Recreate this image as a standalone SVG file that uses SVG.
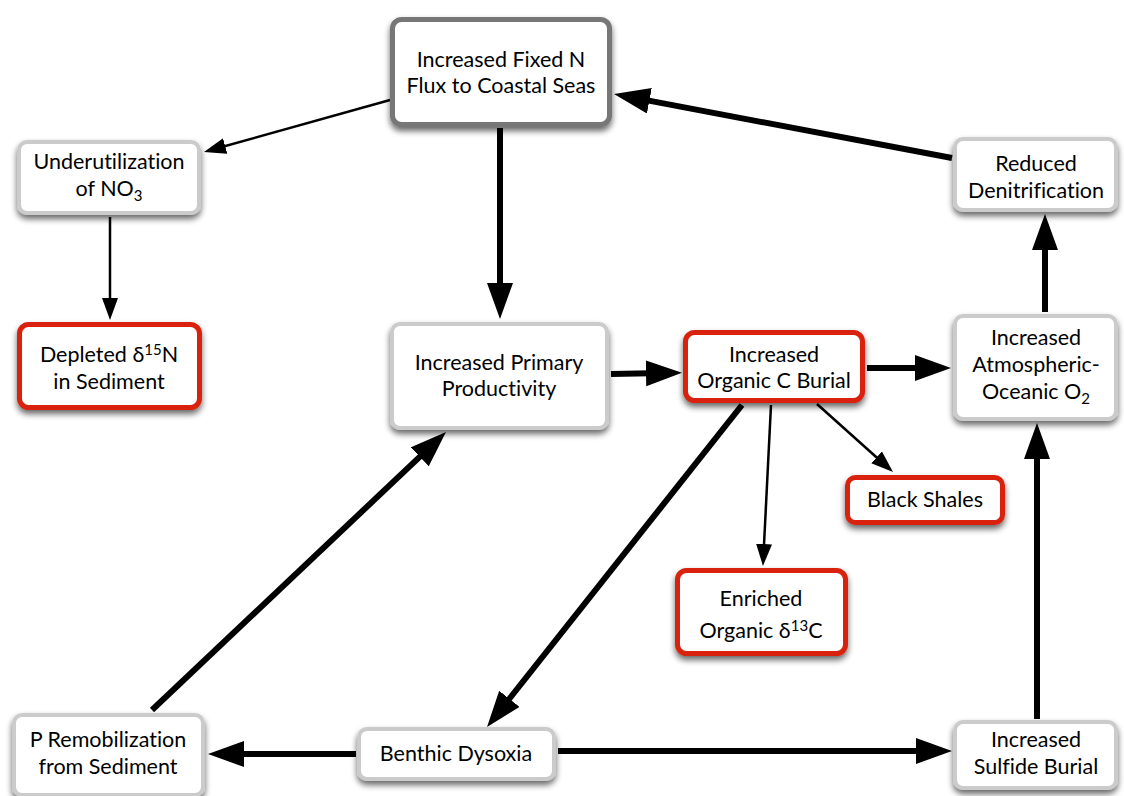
<svg xmlns="http://www.w3.org/2000/svg" width="1124" height="796" viewBox="0 0 1124 796">
<defs>
<filter id="sh" x="-20%" y="-20%" width="140%" height="150%">
<feGaussianBlur in="SourceAlpha" stdDeviation="3"/>
<feOffset dx="0" dy="4" result="b"/>
<feComponentTransfer><feFuncA type="linear" slope="0.6"/></feComponentTransfer>
<feMerge><feMergeNode/><feMergeNode in="SourceGraphic"/></feMerge>
</filter>
<marker id="ah" markerUnits="userSpaceOnUse" markerWidth="40" markerHeight="30" refX="18" refY="13" orient="auto">
<path d="M0,0 L36,13 L0,26 z" fill="#000"/>
</marker>
<marker id="at" markerUnits="userSpaceOnUse" markerWidth="26" markerHeight="20" refX="11" refY="8" orient="auto">
<path d="M0,0 L22,8 L0,16 z" fill="#000"/>
</marker>
</defs>
<style>
.n{fill:#fff;stroke:#cbcbcb;stroke-width:4;filter:url(#sh)}
.d{stroke:#777;stroke-width:5}
.r{stroke:#d8230f;stroke-width:5}
text{font-family:Lato,"Liberation Sans",sans-serif;font-size:21.5px;fill:#000;text-anchor:middle;font-variant-ligatures:none}
.s{font-size:15px}
.thick{stroke:#000;stroke-width:6;fill:none;marker-end:url(#ah)}
.thin{stroke:#000;stroke-width:2.5;fill:none;marker-end:url(#at)}
</style>
<rect width="1124" height="796" fill="#fff"/>
<g id="connectors">
<line class="thin" x1="390" y1="100" x2="214.6" y2="149"/>
<line class="thick" x1="500" y1="128" x2="500" y2="301"/>
<line class="thick" x1="952" y1="158" x2="631.7" y2="97.4"/>
<line class="thin" x1="110" y1="217" x2="110" y2="309"/>
<line class="thick" x1="611" y1="374" x2="664" y2="373"/>
<line class="thick" x1="867" y1="368" x2="933" y2="368"/>
<line class="thick" x1="1045" y1="312" x2="1045" y2="232"/>
<line class="thick" x1="742" y1="405" x2="498.2" y2="712.9"/>
<line class="thin" x1="771" y1="405" x2="763.5" y2="555"/>
<line class="thin" x1="817" y1="404" x2="884.8" y2="464.7"/>
<line class="thick" x1="356" y1="754" x2="226" y2="754"/>
<line class="thick" x1="558" y1="751" x2="934" y2="751"/>
<line class="thick" x1="1037" y1="719" x2="1037" y2="441"/>
<line class="thick" x1="152" y1="710" x2="432.9" y2="444.4"/>
</g>
<g id="fixedN"><rect class="n d" x="392.5" y="19.5" width="217" height="105" rx="9"/>
<text x="501" y="67">Increased Fixed N</text><text x="501" y="93">Flux to Coastal Seas</text></g>
<g id="underutil"><rect class="n" x="19" y="142" width="180" height="71" rx="8"/>
<text x="109" y="169">Underutilization</text><text x="109" y="196">of NO<tspan class="s" dy="5">3</tspan></text></g>
<g id="reduced"><rect class="n" x="955" y="139" width="161" height="71" rx="8"/>
<text x="1036" y="171">Reduced</text><text x="1036" y="198">Denitrification</text></g>
<g id="depleted"><rect class="n r" x="19.5" y="324.5" width="180" height="83" rx="9"/>
<text x="109" y="362">Depleted δ<tspan class="s" dy="-7">15</tspan><tspan dy="7">N</tspan></text><text x="109" y="389">in Sediment</text></g>
<g id="primary"><rect class="n" x="392" y="324" width="215" height="104" rx="8"/>
<text x="499" y="370">Increased Primary</text><text x="499" y="396">Productivity</text></g>
<g id="orgC"><rect class="n r" x="685.5" y="332.5" width="177" height="68" rx="9"/>
<text x="774" y="362">Increased</text><text x="774" y="388">Organic C Burial</text></g>
<g id="o2"><rect class="n" x="955" y="316" width="161" height="103" rx="8"/>
<text x="1036" y="345">Increased</text><text x="1036" y="372">Atmospheric-</text><text x="1036" y="399">Oceanic O<tspan class="s" dy="5">2</tspan></text></g>
<g id="shales"><rect class="n r" x="847.5" y="477.5" width="155" height="45" rx="8"/>
<text x="925" y="507">Black Shales</text></g>
<g id="enriched"><rect class="n r" x="677.5" y="570.5" width="168" height="83" rx="9"/>
<text x="761" y="606">Enriched</text><text x="761" y="638">Organic δ<tspan class="s" dy="-7">13</tspan><tspan dy="7">C</tspan></text></g>
<g id="premob"><rect class="n" x="14" y="715" width="189" height="80" rx="8"/>
<text x="108" y="747">P Remobilization</text><text x="108" y="774">from Sediment</text></g>
<g id="benthic"><rect class="n" x="359" y="729" width="195" height="50" rx="8"/>
<text x="456" y="761">Benthic Dysoxia</text></g>
<g id="sulfide"><rect class="n" x="955" y="722" width="161" height="66" rx="8"/>
<text x="1036" y="747">Increased</text><text x="1036" y="774">Sulfide Burial</text></g>
</svg>
